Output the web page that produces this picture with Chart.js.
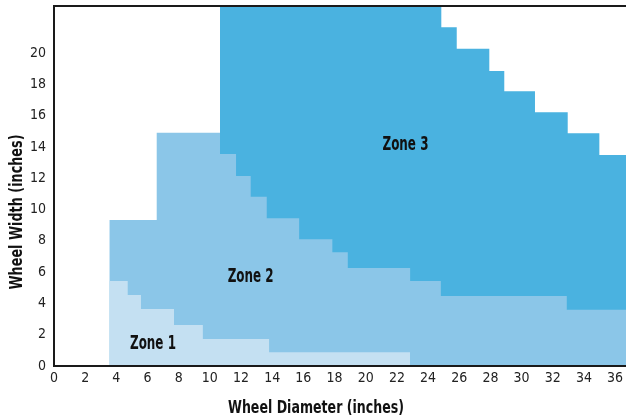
<!DOCTYPE html>
<html><head><meta charset="utf-8">
<script src="https://cdn.jsdelivr.net/npm/chart.js@4"></script>
<style>html,body{margin:0;padding:0;background:#fff;}canvas{display:block;}</style>
</head><body>
<canvas id="c" width="626" height="418"></canvas>
<script>
// ---- data ----
const xTicks = [0,2,4,6,8,10,12,14,16,18,20,22,24,26,28,30,32,34,36];
const yTicks = [0,2,4,6,8,10,12,14,16,18,20];

// Zone 1: step edges (wheel diameter) and wheel width levels
const zone1Edges = [3.55, 4.73, 5.58, 7.7, 9.55, 13.8, 22.85];
const zone1Width = [5.43, 4.54, 3.64, 2.62, 1.73, 0.88];

// Zone 2
const zone2Edges = [3.55, 6.59, 10.65, 11.68, 12.62, 13.65, 15.73, 17.86, 18.85, 22.85, 24.82, 32.9, 36.7];
const zone2Width = [9.33, 14.91, 13.55, 12.14, 10.82, 9.44, 8.1, 7.27, 6.26, 5.43, 4.47, 3.6];

// Zone 3
const zone3Edges = [10.65, 24.85, 25.84, 27.93, 28.89, 30.86, 32.96, 34.99, 36.7];
const zone3Width = [23, 21.64, 20.27, 18.85, 17.55, 16.21, 14.87, 13.48];

const zoneNames = ['Zone 1', 'Zone 2', 'Zone 3'];
const zoneLabelX = [6.35, 12.62, 22.55];
const zoneLabelY = [1.41, 5.69, 14.12];

const xTitle = 'Wheel Diameter (inches)';
const yTitle = 'Wheel Width (inches)';

const xMax = 36.7, yMax = 23;

// ---- helpers ----
const FONT = "'Liberation Sans Narrow','DejaVu Sans Condensed','Liberation Sans',sans-serif";
function stepPoints(edges, values){
  return edges.map((x, i) => ({x: x, y: values[Math.min(i, values.length - 1)]}));
}
const setTicks = list => s => { s.ticks = list.map(v => ({value: v})); };
const fitSize = (dim, size) => s => { s[dim] = size; s.paddingLeft = 0; s.paddingRight = 0; s.paddingTop = 0; s.paddingBottom = 0; };

// draws condensed bold text centred at (x,y), squeezed to the wanted width
function condensedText(ctx, text, x, y, width, size, rot){
  ctx.save();
  ctx.font = 'bold ' + size + 'px ' + FONT;
  ctx.fillStyle = '#111';
  ctx.textAlign = 'center';
  ctx.textBaseline = 'middle';
  const w = ctx.measureText(text).width;
  ctx.translate(x, y);
  if (rot) ctx.rotate(rot);
  ctx.scale(Math.min(1, width / w), 1);
  ctx.fillText(text, 0, 0);
  ctx.restore();
}

const textPlugin = {
  id: 'zoneText',
  afterDatasetsDraw(chart){
    const {ctx, scales} = chart;
    zoneNames.forEach((t, i) => {
      condensedText(ctx, t, scales.x.getPixelForValue(zoneLabelX[i]), scales.y.getPixelForValue(zoneLabelY[i]), 46, 19);
    });
  },
  afterDraw(chart){
    const ctx = chart.ctx;
    condensedText(ctx, xTitle, chart.width / 2 + 3, chart.height - 10, 176, 18);
    condensedText(ctx, yTitle, 17.5, chart.height / 2 + 3, 155, 18, -Math.PI / 2);
  }
};

const common = {pointRadius: 0, borderWidth: 0, stepped: true, fill: 'origin'};
const axisBorder = {display: true, color: '#1a1a1a', width: 2, z: 1};

new Chart(document.getElementById('c'), {
  type: 'line',
  data: {
    datasets: [
      Object.assign({label: zoneNames[0], data: stepPoints(zone1Edges, zone1Width), backgroundColor: '#c4e0f2', order: 1}, common),
      Object.assign({label: zoneNames[1], data: stepPoints(zone2Edges, zone2Width), backgroundColor: '#8bc6e8', order: 2}, common),
      Object.assign({label: zoneNames[2], data: stepPoints(zone3Edges, zone3Width), backgroundColor: '#4ab2e0', order: 3}, common)
    ]
  },
  options: {
    responsive: false,
    animation: false,
    devicePixelRatio: 1,
    layout: {padding: {left: 28, bottom: 19, top: 0, right: 0}},
    plugins: {
      legend: {display: false},
      tooltip: {enabled: false}
    },
    scales: {
      x: {
        type: 'linear', position: 'bottom', min: 0, max: xMax, z: 1,
        afterBuildTicks: setTicks(xTicks),
        afterFit: fitSize('height', 33),
        grid: {display: false, drawTicks: false},
        border: axisBorder,
        ticks: {color: '#222', padding: 4, maxRotation: 0, autoSkip: false, font: {family: FONT, size: 14}}
      },
      xTop: {
        type: 'linear', position: 'top', min: 0, max: xMax, z: 1,
        afterBuildTicks: setTicks([]),
        afterFit: fitSize('height', 6),
        grid: {display: false, drawTicks: false},
        border: axisBorder,
        ticks: {display: false}
      },
      y: {
        type: 'linear', position: 'left', min: 0, max: yMax, z: 1,
        afterBuildTicks: setTicks(yTicks),
        afterFit: fitSize('width', 26),
        grid: {display: false, drawTicks: false},
        border: axisBorder,
        ticks: {color: '#222', padding: 8, autoSkip: false, font: {family: FONT, size: 14}}
      }
    }
  },
  plugins: [textPlugin]
});
</script>
</body></html>
